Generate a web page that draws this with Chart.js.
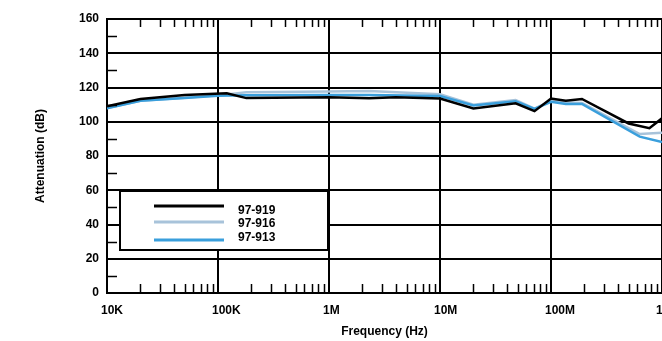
<!DOCTYPE html>
<html>
<head>
<meta charset="utf-8">
<script src="https://cdn.jsdelivr.net/npm/chart.js@4/dist/chart.umd.min.js"></script>
<style>
  html, body { margin: 0; padding: 0; background: #fff; overflow: hidden; width: 662px; height: 341px; }
  canvas { display: block; }
</style>
</head>
<body>
<canvas id="chartCanvas" width="700" height="341"></canvas>
<script>
// Series (frequency in Hz, attenuation in dB)
const seriesNames = ['97-919', '97-916', '97-913'];
const seriesColors = ['#000000', '#a8c3da', '#3a9fdc'];

const freq919 = [1e4, 2e4, 5e4, 1.2e5, 1.8e5, 1e6, 2.3e6, 4e6, 1e7, 2e7, 4.8e7, 7.1e7, 1e8, 1.36e8, 1.9e8, 5e8, 7.7e8, 1e9];
const att919 = [109, 113.3, 115.6, 116.6, 113.8, 114.3, 113.7, 114.3, 113.6, 107.8, 110.8, 106.2, 113.6, 112.3, 113.3, 99, 96.2, 102];

const freq916 = [1e4, 2e4, 5e4, 1e5, 1.8e5, 1e6, 2.3e6, 1e7, 2e7, 4.8e7, 7.1e7, 1e8, 1.36e8, 1.9e8, 6.3e8, 1e9];
const att916 = [108, 112.3, 114, 115.4, 117.2, 117.6, 118, 116, 110, 112.7, 107.6, 112.2, 111.3, 111, 92.8, 93.6];

const freq913 = [1e4, 2e4, 5e4, 1e5, 1.8e5, 1e6, 2.3e6, 1e7, 2e7, 4.8e7, 7.1e7, 1e8, 1.36e8, 1.9e8, 6.3e8, 1e9];
const att913 = [107.9, 112.3, 113.8, 115.2, 115.5, 115.6, 115.6, 115, 109.5, 112, 107.5, 111.6, 110.4, 110.4, 91.3, 88.2];

// Axis ticks
const xTickValues = [1e4, 1e5, 1e6, 1e7, 1e8, 1e9];
const xTickLabels = ['10K', '100K', '1M', '10M', '100M', '1G'];
const yMin = 0, yMax = 160, yStep = 20;

const FONT = { family: '"Liberation Sans", Arial, Helvetica, sans-serif', size: 12, weight: 'bold' };

function toPoints(xs, ys) {
    return xs.map((x, i) => ({ x: x, y: ys[i] }));
}

// Short inward minor ticks (log decades on x, odd tens on y)
const minorTicks = {
    id: 'minorTicks',
    afterDatasetsDraw(chart) {
        const { ctx, chartArea: a, scales: { x, y } } = chart;
        ctx.save();
        ctx.strokeStyle = '#000';
        ctx.lineWidth = 1.5;
        ctx.beginPath();
        for (let d = 0; d < xTickValues.length - 1; d++) {
            for (let m = 2; m <= 9; m++) {
                const px = Math.round(x.getPixelForValue(xTickValues[d] * m)) + 0.5;
                ctx.moveTo(px, a.top); ctx.lineTo(px, a.top + 8);
                ctx.moveTo(px, a.bottom); ctx.lineTo(px, a.bottom - 9);
            }
        }
        for (let v = yMin + yStep / 2; v < yMax; v += yStep) {
            const py = Math.round(y.getPixelForValue(v)) + 0.5;
            ctx.moveTo(a.left, py); ctx.lineTo(a.left + 10, py);
        }
        ctx.stroke();
        ctx.restore();
    }
};

// Boxed legend sitting inside the plot, lower left
const boxLegend = {
    id: 'boxLegend',
    afterDatasetsDraw(chart) {
        const { ctx, chartArea: a } = chart;
        const bx = a.left + 13, by = a.top + 172, bw = 208, bh = 59;
        ctx.save();
        ctx.fillStyle = '#fff';
        ctx.fillRect(bx, by, bw, bh);
        ctx.strokeStyle = '#000';
        ctx.lineWidth = 2;
        ctx.strokeRect(bx, by, bw, bh);
        ctx.font = `${FONT.weight} ${FONT.size}px ${FONT.family}`;
        ctx.textBaseline = 'middle';
        ctx.fillStyle = '#000';
        const lineY = [15, 31, 49];
        const textY = [20, 33, 47];
        seriesNames.forEach((name, i) => {
            ctx.strokeStyle = seriesColors[i];
            ctx.lineWidth = 3;
            ctx.beginPath();
            ctx.moveTo(bx + 34, by + lineY[i]);
            ctx.lineTo(bx + 104, by + lineY[i]);
            ctx.stroke();
            ctx.fillText(name, bx + 118, by + textY[i]);
        });
        ctx.restore();
    }
};

const ctx = document.getElementById('chartCanvas').getContext('2d');
new Chart(ctx, {
    type: 'line',
    data: {
        datasets: [
            { label: seriesNames[0], data: toPoints(freq919, att919), borderColor: seriesColors[0], borderWidth: 2.5, order: 0 },
            { label: seriesNames[1], data: toPoints(freq916, att916), borderColor: seriesColors[1], borderWidth: 2.5, order: 2 },
            { label: seriesNames[2], data: toPoints(freq913, att913), borderColor: seriesColors[2], borderWidth: 2.5, order: 1 }
        ]
    },
    options: {
        responsive: false,
        animation: false,
        devicePixelRatio: 1,
        elements: { point: { radius: 0 }, line: { tension: 0 } },
        layout: { padding: { left: 0, top: 19, right: 38, bottom: 0 } },
        plugins: { legend: { display: false }, tooltip: { enabled: false } },
        scales: {
            x: {
                type: 'logarithmic',
                min: xTickValues[0],
                max: xTickValues[xTickValues.length - 1],
                afterBuildTicks(scale) { scale.ticks = xTickValues.map(v => ({ value: v })); },
                afterFit(scale) { scale.height = 48; },
                ticks: {
                    autoSkip: false, maxRotation: 0, align: 'start', labelOffset: -6, padding: 10,
                    color: '#000', font: FONT,
                    callback: (v) => xTickLabels[xTickValues.indexOf(v)]
                },
                grid: { color: '#000', lineWidth: 2, drawTicks: false },
                border: { color: '#000', width: 2 },
                title: { display: true, text: 'Frequency (Hz)', color: '#000', font: FONT, padding: { top: 0, bottom: 2 } }
            },
            y: {
                min: yMin,
                max: yMax,
                afterFit(scale) { scale.width = 107; },
                ticks: { stepSize: yStep, padding: 8, color: '#000', font: FONT },
                grid: { color: '#000', lineWidth: 2, drawTicks: false },
                border: { color: '#000', width: 2 },
                title: { display: true, text: 'Attenuation (dB)', color: '#000', font: FONT, padding: { top: 33, bottom: 0 } }
            }
        }
    },
    plugins: [minorTicks, boxLegend]
});
</script>
</body>
</html>
